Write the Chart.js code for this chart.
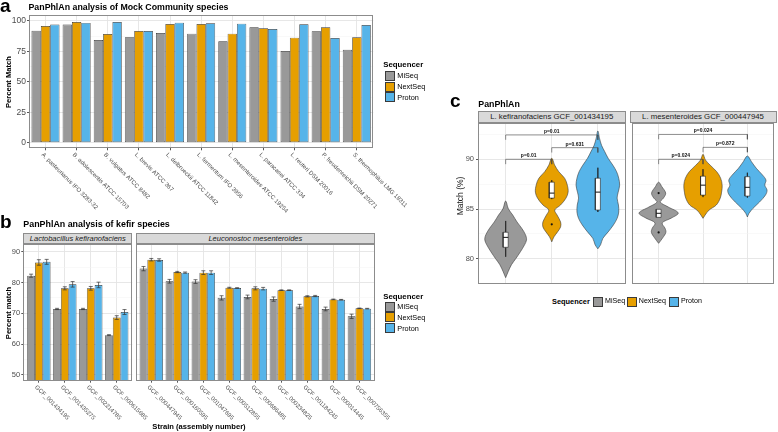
<!DOCTYPE html>
<html><head><meta charset="utf-8">
<script src="https://cdn.jsdelivr.net/npm/chart.js@4.4.1/dist/chart.umd.min.js"></script>
<style>
html,body{margin:0;padding:0;background:#fff;}
body{width:778px;height:432px;position:relative;overflow:hidden;font-family:"Liberation Sans",Arial,Helvetica,sans-serif;}
canvas{position:absolute;}
.t{position:absolute;white-space:nowrap;line-height:1;color:#000;z-index:5;}
.strip{position:absolute;box-sizing:border-box;background:#d9d9d9;border:1px solid #8c8c8c;display:flex;align-items:center;justify-content:center;line-height:1;color:#1a1a1a;white-space:nowrap;z-index:4;}
.key{position:absolute;box-sizing:border-box;width:10px;height:10px;border:1px solid #3a3a3a;z-index:5;}
</style></head><body>
<script>
// ---------------- DATA ----------------
const SEQ = ['MiSeq', 'NextSeq', 'Proton'];
const SEQ_COLORS = ['#999999', '#E69F00', '#56B4E9'];

// Panel a: Mock community
const mockSpecies = ['A. pasteurianus IFO 3283-32', 'B. adolescentis ATCC 15703', 'B. vulgatus ATCC 8482',
  'L. brevis ATCC 367', 'L. delbrueckii ATCC 11842', 'L. fermentum IFO 3956', 'L. mesenteroides ATCC 19254',
  'L. paracasei ATCC 334', 'L. reuteri DSM 20016', 'P. freudenreichii DSM 20271', 'S. thermophilus LMG 18311'];
const mockMiSeq   = [92.0, 97.0, 84.4, 86.6, 90.1, 89.6, 83.3, 94.8, 75.3, 91.5, 76.4];
const mockNextSeq = [95.9, 99.2, 89.3, 91.8, 97.5, 97.5, 89.6, 94.0, 86.3, 94.8, 86.6];
const mockProton  = [97.0, 98.4, 99.2, 91.8, 98.6, 98.1, 97.8, 93.4, 97.3, 86.0, 96.7];
const mockYTicks = [0, 25, 50, 75, 100];
const mockYMinor = [12.5, 37.5, 62.5, 87.5];

// Panel b: kefir species
const lacStrains = ['GCF_001434195', 'GCF_001435275', 'GCF_002214785', 'GCF_000615685'];
const lacMiSeq   = [82.2, 71.4, 71.4, 62.9];
const lacNextSeq = [86.5, 78.1, 78.1, 68.6];
const lacProton  = [86.7, 79.4, 79.2, 70.4];
const lacMiSeqErr   = [0.5, 0.2, 0.2, 0.15];
const lacNextSeqErr = [0.9, 0.5, 0.6, 0.6];
const lacProtonErr  = [0.8, 0.9, 0.9, 0.8];
const leuStrains = ['GCF_000447945', 'GCF_000160595', 'GCF_001047695', 'GCF_000512855', 'GCF_000686485',
  'GCF_000234825', 'GCF_001184245', 'GCF_000014445', 'GCF_000756355'];
const leuMiSeq   = [84.5, 80.4, 80.3, 75.0, 75.3, 74.6, 72.2, 71.4, 69.0];
const leuNextSeq = [87.4, 83.4, 83.2, 78.3, 78.1, 77.5, 75.5, 74.5, 71.6];
const leuProton  = [87.3, 83.2, 83.2, 78.2, 78.0, 77.5, 75.6, 74.4, 71.5];
const leuMiSeqErr   = [0.7, 0.6, 0.6, 0.7, 0.6, 0.7, 0.7, 0.6, 0.7];
const leuNextSeqErr = [0.4, 0.2, 0.6, 0.15, 0.5, 0.1, 0.2, 0.1, 0.1];
const leuProtonErr  = [0.4, 0.2, 0.6, 0.1, 0.4, 0.1, 0.2, 0.1, 0.1];
const kefirYTicks = [50, 60, 70, 80, 90];
const kefirYMinor = [55, 65, 75, 85];

// Panel c: violins (levels top->bottom, half widths in category units)
const kefMiSeqViolinY   = [85.8, 85.0, 84.4, 83.7, 83.06, 82.4, 81.9, 81.4, 80.7, 80.0, 79.4, 78.7, 78.1];
const kefMiSeqViolinW   = [0, .061, .153, .246, .349, .431, .453, .41, .32, .218, .126, .054, 0];
const kefNextSeqViolinY = [90.1, 89.4, 88.75, 88.1, 87.4, 86.7, 86.1, 85.4, 84.9, 84.4, 83.7, 83.2, 82.7, 82.2, 81.7];
const kefNextSeqViolinW = [0, .065, .153, .279, .338, .355, .309, .19, .065, .115, .192, .192, .126, .048, 0];
const kefProtonViolinY  = [92.85, 92.1, 91.4, 90.8, 90.1, 89.4, 88.75, 88.1, 87.4, 86.7, 86.1, 85.4, 84.7, 84.06, 83.4, 82.7, 82.05, 81.4, 81.0];
const kefProtonViolinW  = [0, .037, .081, .146, .224, .327, .407, .453, .473, .442, .418, .447, .453, .418, .338, .224, .109, .059, 0];
const mesMiSeqViolinY   = [87.7, 87.25, 86.6, 86.1, 85.7, 85.2, 84.6, 84.1, 83.6, 83.05, 82.65, 82.1, 81.55];
const mesMiSeqViolinW   = [0, .072, .159, .109, .037, .218, .442, .29, .081, .146, .163, .092, 0];
const mesNextSeqViolinY = [90.5, 89.93, 89.4, 88.75, 88.1, 87.4, 86.7, 86.1, 85.4, 84.9, 84.4, 84.06];
const mesNextSeqViolinW = [0, .055, .164, .31, .397, .432, .419, .389, .299, .138, .048, 0];
const mesProtonViolinY  = [90.33, 89.76, 89.1, 88.4, 87.9, 87.4, 86.9, 86.4, 85.7, 85.07, 84.57, 84.2];
const mesProtonViolinW  = [0, .092, .2, .345, .419, .393, .443, .408, .273, .127, .037, 0];
// box stats: [whiskerLow, q1, median, q3, whiskerHigh]
const kefBoxes = [[80.2, 81.15, 82.15, 82.66, 83.8], [86.0, 86.1, 86.6, 87.7, 87.9], [84.7, 84.9, 86.7, 88.1, 89.15]];
const mesBoxes = [[84.16, 84.16, 84.57, 84.97, 84.97], [86.2, 86.4, 87.4, 88.3, 89.0], [86.14, 86.3, 87.18, 88.25, 88.65]];
const kefOutliers = [[], [83.46], []];
const mesOutliers = [[86.6, 82.65], [], []];
const bracketPairs = [[1, 2], [2, 3], [1, 3]];
const kefBracketY = [90.0, 91.17, 92.45];
const kefBracketLabels = ['p=0.01', 'p=0.631', 'p=0.01'];
const mesBracketY = [90.0, 91.2, 92.5];
const mesBracketLabels = ['p=0.024', 'p=0.872', 'p=0.024'];
const matchYTicks = [80, 85, 90];
const matchYMinor = [77.5, 82.5, 87.5, 92.5];

// ---------------- HELPERS ----------------
const FONT = '"Liberation Sans", Arial, Helvetica, sans-serif';
Chart.defaults.font.family = FONT;
Chart.defaults.animation = false;
Chart.defaults.events = [];
Chart.defaults.plugins.legend.display = false;
Chart.defaults.plugins.tooltip.enabled = false;
const GRID_MAJOR = '#e4e4e4', GRID_MINOR = '#f2f2f2';

function makeCanvas(left, top, w, h) {
  const c = document.createElement('canvas');
  c.width = w; c.height = h;
  c.style.left = left + 'px'; c.style.top = top + 'px';
  c.style.width = w + 'px'; c.style.height = h + 'px';
  document.body.appendChild(c);
  return c;
}
function txt(s, x, baseline, size, o = {}) {
  const d = document.createElement('div');
  d.className = 't'; d.textContent = s;
  d.style.fontSize = size + 'px';
  d.style.left = x + 'px';
  d.style.top = (baseline - 0.8465 * size) + 'px';
  if (o.bold) d.style.fontWeight = 'bold';
  if (o.italic) d.style.fontStyle = 'italic';
  if (o.color) d.style.color = o.color;
  if (o.center) d.style.transform = 'translateX(-50%)';
  document.body.appendChild(d);
}
function vtxt(s, cx, cy, size, o = {}) {
  const d = document.createElement('div');
  d.className = 't'; d.textContent = s;
  d.style.fontSize = size + 'px';
  d.style.left = cx + 'px'; d.style.top = cy + 'px';
  d.style.transform = 'translate(-50%,-50%) rotate(-90deg)';
  if (o.bold) d.style.fontWeight = 'bold';
  if (o.color) d.style.color = o.color;
  document.body.appendChild(d);
}
function strip(s, l, t, r, b, size, italic) {
  const d = document.createElement('div');
  d.className = 'strip'; d.textContent = s;
  d.style.left = l + 'px'; d.style.top = t + 'px';
  d.style.width = (r - l) + 'px'; d.style.height = (b - t) + 'px';
  d.style.fontSize = size + 'px';
  if (italic) d.style.fontStyle = 'italic';
  document.body.appendChild(d);
}
function key(color, l, t) {
  const d = document.createElement('div');
  d.className = 'key'; d.style.background = color;
  d.style.left = l + 'px'; d.style.top = t + 'px';
  document.body.appendChild(d);
}

const panelBox = {
  id: 'panelBox',
  afterDraw(chart) {
    const {ctx, chartArea: a} = chart;
    ctx.save(); ctx.strokeStyle = '#8c8c8c'; ctx.lineWidth = 1;
    const l = Math.round(a.left), t = Math.round(a.top), r = Math.round(a.right), b = Math.round(a.bottom);
    ctx.strokeRect(l + 0.5, t + 0.5, r - l - 1, b - t - 1);
    ctx.restore();
  }
};
function rotLabels(labels, size, dy) {
  return {
    id: 'rotLabels',
    afterDraw(chart) {
      const {ctx, chartArea, scales} = chart;
      ctx.save();
      ctx.font = size + 'px ' + FONT; ctx.fillStyle = '#4d4d4d';
      ctx.textAlign = 'left'; ctx.textBaseline = 'top';
      labels.forEach((lab, i) => {
        const x = scales.x.getPixelForValue(i + 1);
        ctx.save(); ctx.translate(x - 1, chartArea.bottom + dy); ctx.rotate(Math.PI / 4);
        ctx.fillText(lab, 0, 0); ctx.restore();
      });
      ctx.restore();
    }
  };
}
function errBars(errs) {
  return {
    id: 'errBars',
    afterDatasetsDraw(chart) {
      const {ctx} = chart; const y = chart.scales.y;
      ctx.save(); ctx.strokeStyle = '#333'; ctx.lineWidth = 0.7;
      errs.forEach((arr, d) => {
        const meta = chart.getDatasetMeta(d);
        meta.data.forEach((el, i) => {
          const v = chart.data.datasets[d].data[i].y, e = arr[i];
          const y1 = y.getPixelForValue(v + e), y2 = y.getPixelForValue(v - e), x = el.x, hw = 2;
          ctx.beginPath();
          ctx.moveTo(x, y1); ctx.lineTo(x, y2);
          ctx.moveTo(x - hw, y1); ctx.lineTo(x + hw, y1);
          ctx.moveTo(x - hw, y2); ctx.lineTo(x + hw, y2);
          ctx.stroke();
        });
      });
      ctx.restore();
    }
  };
}
function pLabels(pairs, ys, labels) {
  return {
    id: 'pLabels',
    afterDatasetsDraw(chart) {
      const {ctx, scales} = chart;
      ctx.save(); ctx.font = 'bold 5px ' + FONT; ctx.fillStyle = '#111';
      ctx.textAlign = 'center'; ctx.textBaseline = 'alphabetic';
      pairs.forEach((p, i) => {
        const x = (scales.x.getPixelForValue(p[0]) + scales.x.getPixelForValue(p[1])) / 2;
        ctx.fillText(labels[i], x, scales.y.getPixelForValue(ys[i]) - 2);
      });
      ctx.restore();
    }
  };
}
function yScale(min, max, major, minor, o) {
  const all = major.concat(minor).sort((a, b) => a - b);
  const isMaj = c => c && c.tick && major.includes(c.tick.value);
  return {
    type: 'linear', min, max,
    afterBuildTicks: s => { s.ticks = all.map(v => ({value: v})); },
    ticks: {display: o.labels, autoSkip: false, padding: o.pad || 1, color: '#4d4d4d',
      font: {size: o.size || 8}, callback: v => major.includes(v) ? String(v) : ''},
    grid: {color: c => isMaj(c) ? GRID_MAJOR : GRID_MINOR, lineWidth: c => isMaj(c) ? 0.9 : 0.5,
      drawTicks: o.labels, tickLength: 2, tickColor: c => isMaj(c) ? '#444' : 'rgba(0,0,0,0)'},
    border: {display: false},
    afterFit: s => { s.width = o.width; }
  };
}
function xScale(n, lo, hi, tickMarks) {
  return {
    type: 'linear', min: lo, max: hi, offset: false,
    afterBuildTicks: s => { s.ticks = []; for (let i = 1; i <= n; i++) s.ticks.push({value: i}); },
    ticks: {display: false},
    grid: {offset: false, color: GRID_MAJOR, lineWidth: 0.9, drawTicks: tickMarks, tickLength: 2, tickColor: '#444'},
    border: {display: false},
    afterFit: s => { s.height = tickMarks ? 3 : 0; }
  };
}
function barSets(series) {
  return series.map((vals, k) => ({
    label: SEQ[k], data: vals.map((v, i) => ({x: i + 1, y: v})),
    backgroundColor: SEQ_COLORS[k], borderColor: '#333', borderWidth: 0.7, borderSkipped: false,
    categoryPercentage: 0.9, barPercentage: 1
  }));
}

// ---------------- PANEL A ----------------
new Chart(makeCanvas(0, 0, 440, 220), {
  type: 'bar',
  data: {datasets: barSets([mockMiSeq, mockNextSeq, mockProton])},
  options: {
    responsive: false,
    layout: {padding: {left: 0, top: 15, right: 440 - 373.3, bottom: 220 - 148.3 - 3}},
    scales: {
      x: xScale(mockSpecies.length, 0.47, mockSpecies.length + 0.53, true),
      y: yScale(-4.6, 104.9, mockYTicks, mockYMinor, {labels: true, width: 29, size: 8.5, pad: 1})
    }
  },
  plugins: [panelBox, rotLabels(mockSpecies, 6, 3.5)]
});

// ---------------- PANEL B ----------------
new Chart(makeCanvas(0, 200, 180, 232), {
  type: 'bar',
  data: {datasets: barSets([lacMiSeq, lacNextSeq, lacProton])},
  options: {
    responsive: false,
    layout: {padding: {left: 0, top: 44.3, right: 180 - 132.3, bottom: 232 - 180.7 - 3}},
    scales: {
      x: xScale(lacStrains.length, 0.4, lacStrains.length + 0.6, true),
      y: yScale(48.1, 92.4, kefirYTicks, kefirYMinor, {labels: true, width: 23.3, size: 7.5, pad: 1.2})
    }
  },
  plugins: [panelBox, errBars([lacMiSeqErr, lacNextSeqErr, lacProtonErr]), rotLabels(lacStrains, 6, 3.5)]
});
new Chart(makeCanvas(130, 200, 270, 232), {
  type: 'bar',
  data: {datasets: barSets([leuMiSeq, leuNextSeq, leuProton])},
  options: {
    responsive: false,
    layout: {padding: {left: 5.7, top: 44.3, right: 270 - 245, bottom: 232 - 180.7 - 3}},
    scales: {
      x: xScale(leuStrains.length, 0.4, leuStrains.length + 0.6, true),
      y: yScale(48.1, 92.4, kefirYTicks, kefirYMinor, {labels: false, width: 0})
    }
  },
  plugins: [panelBox, errBars([leuMiSeqErr, leuNextSeqErr, leuProtonErr]), rotLabels(leuStrains, 6, 3.5)]
});

// ---------------- PANEL C ----------------
function violinPoints(center, ys, ws) {
  const pts = [];
  for (let i = ys.length - 1; i >= 0; i--) pts.push({x: center + ws[i], y: ys[i]});
  for (let i = 1; i < ys.length; i++) pts.push({x: center - ws[i], y: ys[i]});
  return pts;
}
function violinDatasets(profY, profW, boxes, outliers, brY) {
  const ds = [];
  const line = (data, extra) => Object.assign({data, showLine: true, pointRadius: 0, borderColor: '#2a2a2a',
    borderWidth: 0.6, tension: 0, fill: false, clip: false}, extra || {});
  bracketPairs.forEach((p, i) => {
    const y = brY[i], tip = 0.49;
    ds.push(line([{x: p[0], y: y - tip}, {x: p[0], y}, {x: p[1], y}, {x: p[1], y: y - tip}], {borderColor: '#444'}));
  });
  outliers.forEach((arr, k) => {
    if (arr.length) ds.push({data: arr.map(v => ({x: k + 1, y: v})), showLine: false, pointRadius: 1.1,
      pointBorderWidth: 0, pointBackgroundColor: '#111'});
  });
  const h = 0.055;
  boxes.forEach((b, k) => {
    const c = k + 1;
    ds.push(line([{x: c - h, y: b[2]}, {x: c + h, y: b[2]}], {borderWidth: 1, borderColor: '#111'}));
    ds.push(line([{x: c - h, y: b[1]}, {x: c + h, y: b[1]}, {x: c + h, y: b[3]}, {x: c - h, y: b[3]}, {x: c - h, y: b[1]}],
      {fill: 'shape', backgroundColor: '#ffffff', borderColor: '#222'}));
    ds.push(line([{x: c, y: b[4]}, {x: c, y: b[3]}, {x: c, y: null}, {x: c, y: b[1]}, {x: c, y: b[0]}],
      {borderColor: '#222', spanGaps: false}));
  });
  profY.forEach((ys, k) => {
    ds.push(line(violinPoints(k + 1, ys, profW[k]), {fill: 'shape', backgroundColor: SEQ_COLORS[k],
      borderColor: '#3a3a3a', tension: 0.35}));
  });
  return ds;
}
function violinChart(left, w, padL, padR, yw, profY, profW, boxes, outliers, brY, brLabels, labels) {
  new Chart(makeCanvas(left, 95, w, 200), {
    type: 'scatter',
    data: {datasets: violinDatasets(profY, profW, boxes, outliers, brY)},
    options: {
      responsive: false,
      layout: {padding: {left: padL, top: 27.7, right: padR, bottom: 200 - 189.3}},
      scales: {
        x: xScale(3, 0.4, 3.6, false),
        y: yScale(77.43, 93.68, matchYTicks, matchYMinor, {labels, width: yw, size: 7.5, pad: 2})
      }
    },
    plugins: [panelBox, pLabels(bracketPairs, brY, brLabels)]
  });
}
violinChart(440, 190, 0, 4.5, 38,
  [kefMiSeqViolinY, kefNextSeqViolinY, kefProtonViolinY], [kefMiSeqViolinW, kefNextSeqViolinW, kefProtonViolinW],
  kefBoxes, kefOutliers, kefBracketY, kefBracketLabels, true);
violinChart(628, 150, 1.5, 1.5, 0,
  [mesMiSeqViolinY, mesNextSeqViolinY, mesProtonViolinY], [mesMiSeqViolinW, mesNextSeqViolinW, mesProtonViolinW],
  mesBoxes, mesOutliers, mesBracketY, mesBracketLabels, false);

// ---------------- TEXT ----------------
txt('a', 0, 11.7, 19, {bold: true});
txt('PanPhlAn analysis of Mock Community species', 28.5, 10.5, 8.8, {bold: true});
vtxt('Percent Match', 8.5, 81.7, 7.6, {bold: true});
txt('b', 0, 228.3, 19, {bold: true});
txt('PanPhlAn analysis of kefir species', 23.3, 227.5, 8.9, {bold: true});
vtxt('Percent match', 8.5, 312.5, 7.6, {bold: true});
txt('Strain (assembly number)', 199, 429.5, 7.6, {bold: true, center: true});
strip('Lactobacillus kefiranofaciens', 23.3, 232.7, 132.3, 244.3, 7.5, true);
strip('Leuconostoc mesenteroides', 135.7, 232.7, 375, 244.3, 7.5, true);
txt('c', 450, 106.7, 19, {bold: true});
txt('PanPhlAn', 478.3, 107.5, 8.8, {bold: true});
vtxt('Match (%)', 460, 196, 8.5, {color: '#1a1a1a'});
strip('L. kefiranofaciens GCF_001434195', 478, 110.7, 625.5, 122.7, 7.8, false);
strip('L. mesenteroides GCF_000447945', 629.5, 110.7, 776.5, 122.7, 7.8, false);

// legends
function vLegend(x, titleCy, keyTop, pitch) {
  txt('Sequencer', x, titleCy + 2.8, 7.8, {bold: true});
  SEQ.forEach((s, i) => {
    key(SEQ_COLORS[i], x + 1.7, keyTop + i * pitch);
    txt(s, x + 14, keyTop + i * pitch + 5 + 2.6, 7.3);
  });
}
vLegend(383.3, 65, 71, 10.7);
vLegend(383.3, 296.7, 301.7, 10.7);
txt('Sequencer', 552, 302 + 2.7, 7.4, {bold: true});
const cKeyX = [593.3, 627.3, 669.3], cTxtX = [605, 638.8, 681];
SEQ.forEach((s, i) => { key(SEQ_COLORS[i], cKeyX[i], 296.7); txt(s, cTxtX[i], 301.7 + 2.6, 7.1); });
</script>
</body></html>
